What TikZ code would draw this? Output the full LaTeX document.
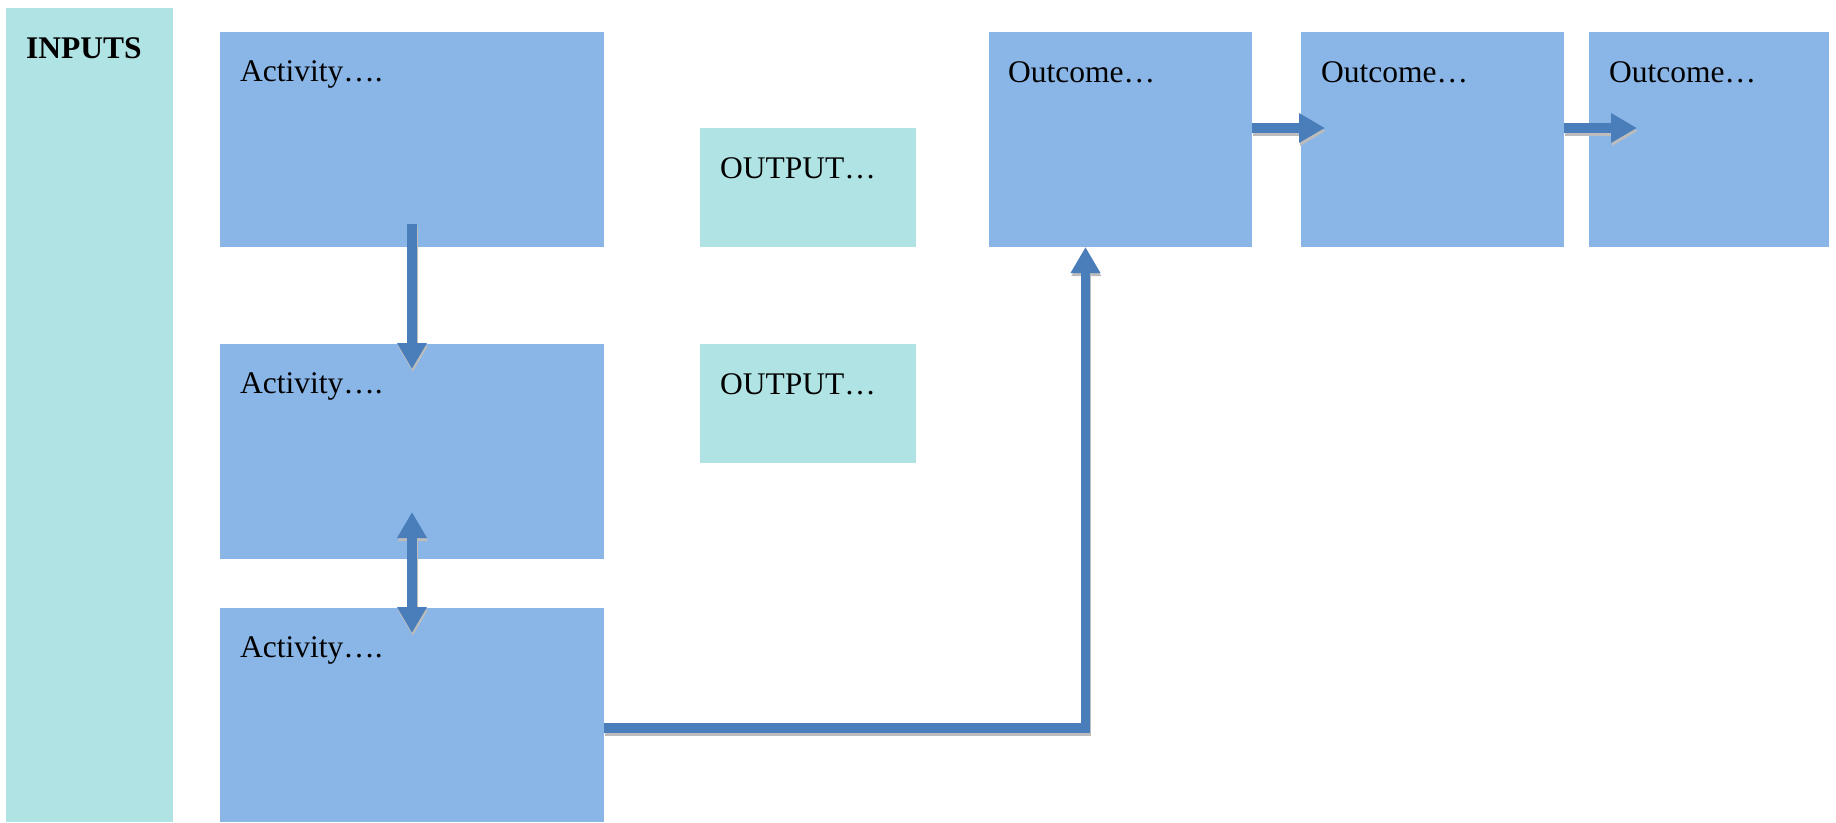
\documentclass[tikz,border=0pt]{standalone}
\usepackage{fontspec}
\setmainfont{Liberation Serif}
\usetikzlibrary{arrows.meta}
\definecolor{actblue}{HTML}{89B6E6}
\definecolor{aqua}{HTML}{B0E3E4}
\definecolor{arrblue}{HTML}{4A7EBB}
\definecolor{shadowgray}{HTML}{BCBCBC}
\begin{document}
\begin{tikzpicture}[x=1pt,y=-1pt,
  box/.style={rectangle, draw=none, anchor=north west, inner sep=0pt, outer sep=0pt},
  act/.style={box, fill=actblue},
  aq/.style={box, fill=aqua},
  lbl/.style={anchor=base west, inner sep=0pt, font=\fontsize{31.5}{36}\selectfont},
  tipA/.tip={Triangle[width=28pt,length=26pt]},
  conn/.style={draw=arrblue, line width=9.5pt},
  shad/.style={draw=shadowgray, line width=9.5pt, transform canvas={shift={(0.8pt,-3pt)}}}
]
\useasboundingbox (0,0) rectangle (1836,822);
% boxes
\node[aq,  minimum width=167pt, minimum height=814pt] (in) at (6,8) {};
\node[act, minimum width=384pt, minimum height=215pt] (a1) at (220,32) {};
\node[act, minimum width=384pt, minimum height=215pt] (a2) at (220,344) {};
\node[act, minimum width=384pt, minimum height=214pt] (a3) at (220,608) {};
\node[aq,  minimum width=216pt, minimum height=119pt] (p1) at (700,128) {};
\node[aq,  minimum width=216pt, minimum height=119pt] (p2) at (700,344) {};
\node[act, minimum width=263pt, minimum height=215pt] (o1) at (989,32) {};
\node[act, minimum width=263pt, minimum height=215pt] (o2) at (1301,32) {};
\node[act, minimum width=240pt, minimum height=215pt] (o3) at (1589,32) {};
% labels
\node[lbl, font=\fontsize{31.5}{36}\selectfont\bfseries] (tin) at ([shift={(20pt,-50pt)}]in.north west) {INPUTS};
\node[lbl] (ta1) at ([shift={(20pt,-49pt)}]a1.north west) {Activity….};
\node[lbl] (ta2) at ([shift={(20pt,-49pt)}]a2.north west) {Activity….};
\node[lbl] (ta3) at ([shift={(20pt,-49pt)}]a3.north west) {Activity….};
\node[lbl] (tp1) at ([shift={(20pt,-50pt)}]p1.north west) {OUTPUT…};
\node[lbl] (tp2) at ([shift={(20pt,-50pt)}]p2.north west) {OUTPUT…};
\node[lbl] (to1) at ([shift={(19pt,-50pt)}]o1.north west) {Outcome…};
\node[lbl] (to2) at ([shift={(20pt,-50pt)}]o2.north west) {Outcome…};
\node[lbl] (to3) at ([shift={(20pt,-50pt)}]o3.north west) {Outcome…};
% connector end points
\coordinate (s1) at ([yshift=23pt]a1.south);
\coordinate (t1) at ([yshift=-25pt]a2.north);
\coordinate (s2) at ([yshift=47pt]a2.south);
\coordinate (t2) at ([yshift=-25pt]a3.north);
\coordinate (s3) at ([yshift=-13pt]a3.east);
\coordinate (t3) at ([xshift=-35pt]o1.south);
\coordinate (s4) at ([yshift=11.5pt]o1.east);
\coordinate (t4) at ([shift={(24pt,11.5pt)}]o2.west);
\coordinate (s5) at ([yshift=11.5pt]o2.east);
\coordinate (t5) at ([shift={(48pt,11.5pt)}]o3.west);
% shadows
\draw[shad, -tipA] (s1) -- (t1);
\draw[shad, tipA-tipA] (s2) -- (t2);
\draw[shad, -tipA] (s3) -| (t3);
\draw[shad, -tipA] (s4) -- (t4);
\draw[shad, -tipA] (s5) -- (t5);
% connectors
\draw[conn, -tipA] (s1) -- (t1);
\draw[conn, tipA-tipA] (s2) -- (t2);
\draw[conn, -tipA] (s3) -| (t3);
\draw[conn, -tipA] (s4) -- (t4);
\draw[conn, -tipA] (s5) -- (t5);
\end{tikzpicture}
\end{document}
